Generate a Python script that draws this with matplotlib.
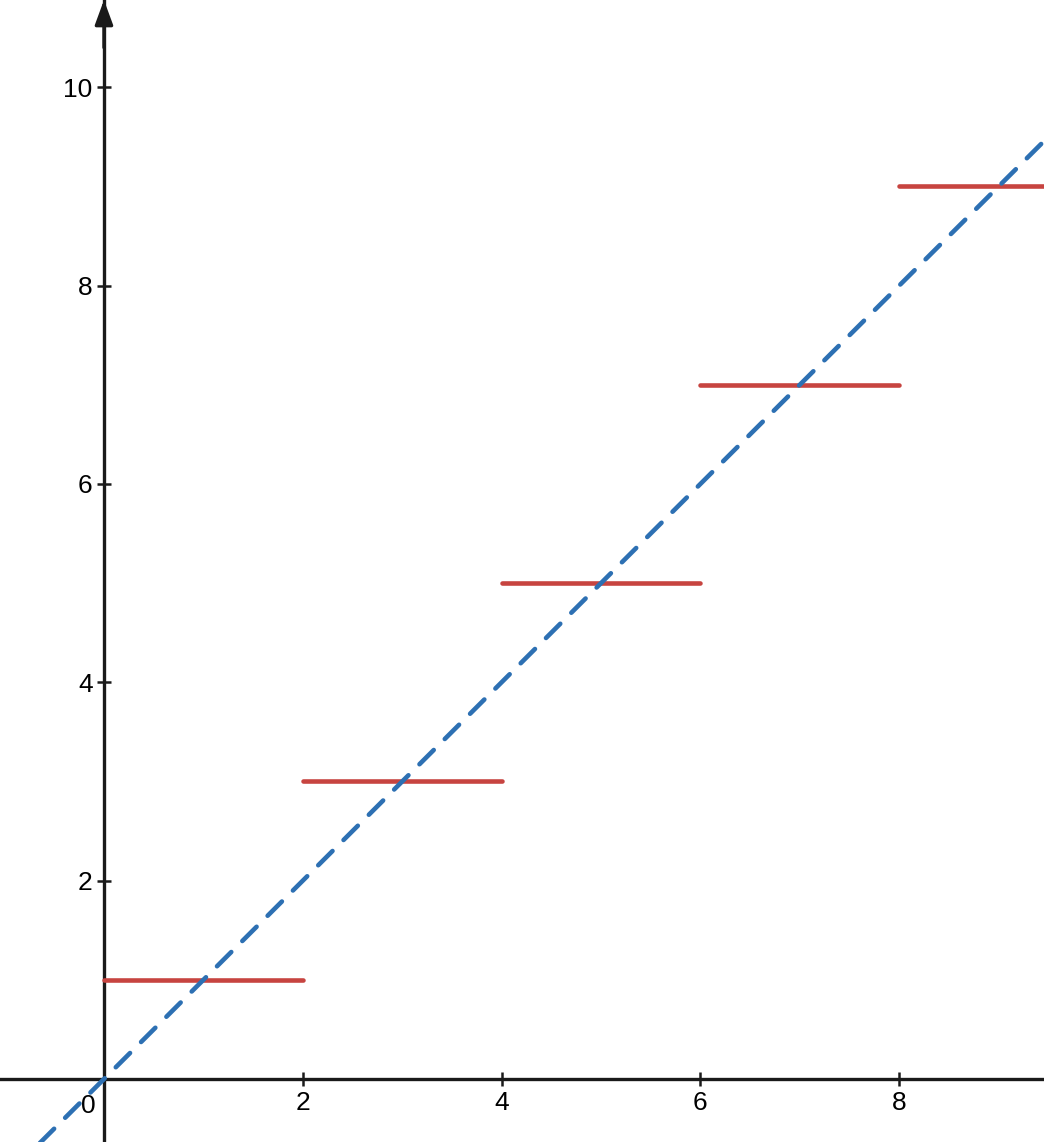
import matplotlib.pyplot as plt

plt.rcParams['font.family'] = ['Liberation Sans', 'DejaVu Sans']

# step segments (start, end, level) and the reference line y = x
step_starts = [0, 2, 4, 6, 8]
step_ends = [2, 4, 6, 8, 10]
step_levels = [1, 3, 5, 7, 9]
line_x = [-1, 10]
line_y = [-1, 10]

x_ticks = [2, 4, 6, 8]
y_ticks = [2, 4, 6, 8, 10]

RED = '#c74440'
BLUE = '#2d70b3'
AXIS = '#1a1a1a'

fig = plt.figure(figsize=(10.44, 11.42), dpi=100)
ax = fig.add_axes([0, 0, 1, 1])
ax.set_xlim(-1.046, 9.457)
ax.set_ylim(-0.635, 10.88)

for x0, x1, lv in zip(step_starts, step_ends, step_levels):
    ax.plot([x0, x1], [lv, lv], color=RED, lw=3.3, solid_capstyle='round', zorder=3)

ax.plot(line_x, line_y, color=BLUE, lw=3.3, dashes=(4.4, 3.4),
        dash_capstyle='round', zorder=4)

# axes through the origin
for s in ['top', 'right']:
    ax.spines[s].set_visible(False)
ax.spines['left'].set_position(('data', 0))
ax.spines['bottom'].set_position(('data', 0))
for s in ['left', 'bottom']:
    ax.spines[s].set_linewidth(2.4)
    ax.spines[s].set_color(AXIS)

ax.set_xticks(x_ticks)
ax.set_yticks(y_ticks)
ax.tick_params(axis='both', direction='inout', length=9.4, width=1.8,
               colors=AXIS, labelsize=19, labelcolor='black')
ax.tick_params(axis='x', pad=4)
ax.tick_params(axis='y', pad=3.5)
ax.text(-0.16, -0.27, '0', fontsize=19, ha='center', va='center')

# arrow at the top of the y axis
ax.annotate('', xy=(0, 10.88), xytext=(0, 10.4),
            arrowprops=dict(arrowstyle='-|>,head_length=1.5,head_width=0.55',
                            color=AXIS, lw=2.4, shrinkA=0, shrinkB=0),
            annotation_clip=False, zorder=5)

fig.savefig('out.png', dpi=100)
